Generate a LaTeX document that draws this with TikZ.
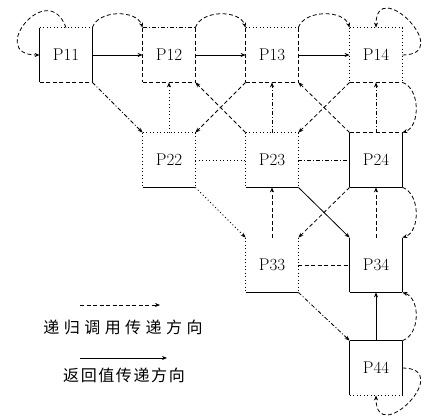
\documentclass[tikz,border=0pt]{standalone}
\usepackage{fontspec}
\newfontfamily\cjk{Noto Sans CJK SC}
\usetikzlibrary{arrows.meta}

\tikzset{
  cell/.style={minimum width=52pt,minimum height=54pt,inner sep=0pt,font=\fontsize{17}{17}\selectfont},
  ddash/.style={dash pattern=on 4pt off 2.5pt},
  ddot/.style={dash pattern=on 1pt off 2.5pt},
  dashdot/.style={dash pattern=on 4pt off 2pt on 1pt off 2pt},
  nix/.style={draw=none},
}

\begin{document}
\begin{tikzpicture}[x=1pt,y=1pt,line width=0.8pt,>={Stealth[length=5pt,width=4pt]}]
			\useasboundingbox (0,0) rectangle (429,418);
			
			\node[cell] (p11) at (66,363) {P11};
			\node[cell] (p12) at (169,363) {P12};
			\node[cell] (p13) at (272,363) {P13};
			\node[cell] (p14) at (376,363) {P14};
			\node[cell] (p22) at (169,258) {P22};
			\node[cell] (p23) at (272,258) {P23};
			\node[cell] (p24) at (376,258) {P24};
			\node[cell] (p33) at (272,153) {P33};
			\node[cell] (p34) at (376,153) {P34};
			\node[cell] (p44) at (376,50) {P44};
			
			% box sides: top/right/bottom/left
			\foreach \n/\t/\r/\b/\l in {
				p11/ddot/solid/ddash/solid,
				p12/dashdot/ddash/ddash/ddash,
				p13/ddot/ddash/ddash/ddash,
				p14/ddot/ddot/ddash/ddot,
				p22/ddot/ddot/solid/ddot,
				p23/ddot/ddot/solid/ddot,
				p24/ddash/solid/solid/solid,
				p33/nix/ddot/solid/ddot,
				p34/nix/solid/solid/solid,
				p44/solid/solid/ddot/solid}
			{
				\draw[\t] (\n.north west)--(\n.north east);
				\draw[\r] (\n.north east)--(\n.south east);
				\draw[\b] (\n.south west)--(\n.south east);
				\draw[\l] (\n.north west)--(\n.south west);
			}
			
			% self loops
			\draw[->,ddash] (p11.north) to[out=110,in=180,looseness=3.6] (p11.west);
			\draw[->,ddash] (p14.east) to[out=0,in=90,looseness=3.6] (p14.north);
			\draw[->,ddash] (p44.east) to[out=0,in=-90,looseness=3.6] (p44.south);
			
			% first row
			\draw[->] (p11.east)--(p12.west);
			\draw[->] (p12.east)--(p13.west);
			\draw[->] (p13.east)--(p14.west);
			\draw[->,ddash] (p11.north east) .. controls +(6,18) and +(-6,18) .. (p12.north west);
			\draw[->,ddash] (p12.north east) .. controls +(6,18) and +(-6,18) .. (p13.north west);
			\draw[->,ddash] (p13.north east) .. controls +(6,18) and +(-6,18) .. (p14.north west);
			
			% right side arcs
			\draw[->,ddash] (p14.south east) .. controls +(18,-6) and +(18,6) .. (p24.north east);
			\draw[->,ddash] (p24.south east) .. controls +(18,-6) and +(18,6) .. (p34.north east);
			\draw[->,ddash] (p44.north east) .. controls +(18,6) and +(18,-6) .. (p34.south east);
			
			% upward
			\draw[->,ddot] (p22.north)--(p12.south);
			\draw[->,dashdot] (p23.north)--(p13.south);
			\draw[->,dashdot] (p24.north)--(p14.south);
			\draw[->,ddash] (p33.north)--(p23.south);
			\draw[->,ddash] (p34.north)--(p24.south);
			\draw[->] (p44.north)--(p34.south);
			
			% diagonals
			\draw[->,dashdot] (p11.south east)--(p22.north west);
			\draw[->,ddash] (p13.south west)--(p22.north east);
			\draw[->,ddash] (p23.north west)--(p12.south east);
			\draw[->,ddash] (p14.south west)--(p23.north east);
			\draw[->,ddash] (p24.north west)--(p13.south east);
			\draw[->,ddot] (p22.south east)--(p33.north west);
			\draw[->,ddash] (p24.south west)--(p33.north east);
			\draw[->] (p23.south east)--(p34.north west);
			\draw[->,dashdot] (p33.south east)--(p44.north west);
			
			% across
			\draw[ddot] (p22.east)--(p23.west);
			\draw[dashdot] (p23.east)--(p24.west);
			\draw[ddash] (p33.east)--(p34.west);
			
			% legend
			\coordinate (la) at (80,113);
			\coordinate (lb) at (160,113);
			\coordinate (lc) at (80,60);
			\coordinate (ld) at (167,60);
			\draw[->,ddash] (la)--(lb);
			\draw[->] (lc)--(ld);
			\node[font=\cjk\fontsize{16}{16}\selectfont\addfontfeature{LetterSpace=28}] (t1) at (123,91) {递归调用传递方向};
			\node[font=\cjk\fontsize{16}{16}\selectfont\addfontfeature{LetterSpace=10}] (t2) at (124,43) {返回值传递方向};
		\end{tikzpicture}
\end{document}
